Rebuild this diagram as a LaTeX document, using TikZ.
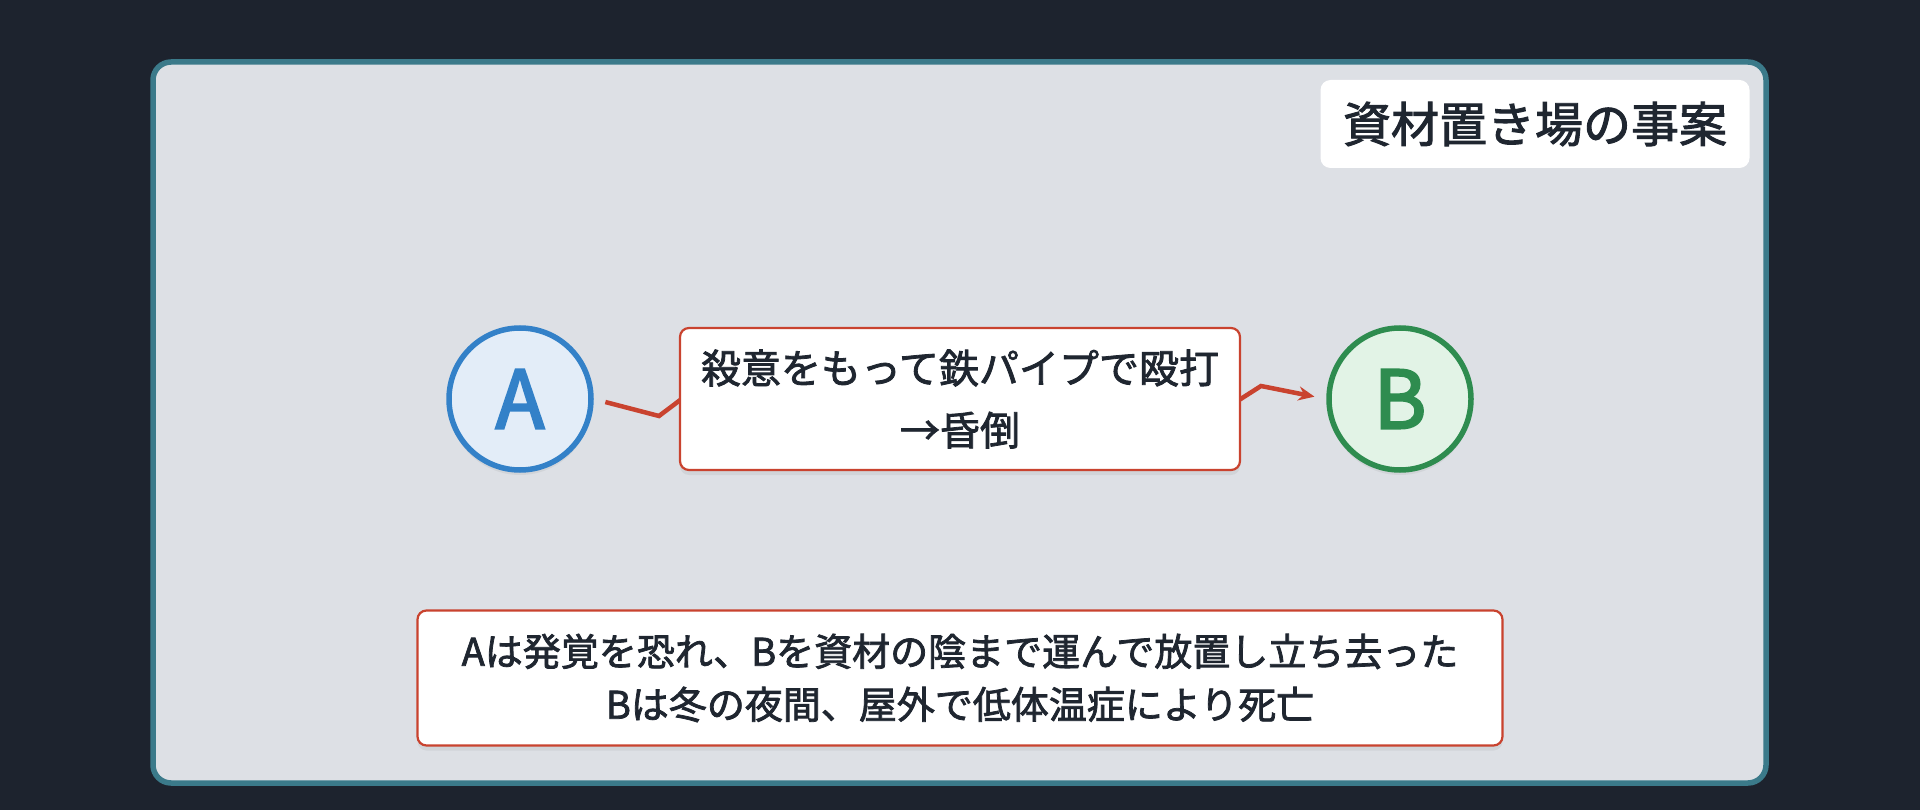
\documentclass[tikz,border=0pt]{standalone}
\usepackage{fontspec}
\setmainfont{Noto Sans CJK JP}[FakeBold=2]
\newfontfamily\letterfont{Noto Sans CJK JP}[FakeBold=3]
\usetikzlibrary{shadows,arrows.meta}
\definecolor{bgdark}{HTML}{1D232E}
\definecolor{panelfill}{HTML}{DDE0E5}
\definecolor{panelline}{HTML}{3B7A8A}
\definecolor{ink}{HTML}{1F2630}
\definecolor{blueline}{HTML}{3381C8}
\definecolor{bluefill}{HTML}{E3EDF8}
\definecolor{greenline}{HTML}{2E8C4F}
\definecolor{greenfill}{HTML}{E2F3E6}
\definecolor{redline}{HTML}{C9432F}
\tikzset{
  person/.style={circle, line width=5.5pt, minimum size=142pt, inner sep=0pt,
    font=\letterfont\fontsize{80}{82}\selectfont, drop shadow={opacity=0.12, shadow xshift=0pt, shadow yshift=-5pt}},
  eventbox/.style={draw=redline, line width=2.2pt, fill=white, rounded corners=9pt, inner sep=0pt,
    text=ink, align=center, drop shadow={opacity=0.12, shadow xshift=0pt, shadow yshift=-5pt}},
  titlebox/.style={fill=white, rounded corners=10pt, inner sep=0pt, text=ink,
    font=\fontsize{48}{52}\selectfont},
  attack/.style={draw=redline, line width=4.5pt, line join=miter,
    -{Stealth[length=16pt,width=14pt]}, shorten <=12pt, shorten >=12pt}
}
\begin{document}
\begin{tikzpicture}[x=1pt,y=-1pt]
\fill[bgdark] (0,0) rectangle (1920,810);
\useasboundingbox (0,0) rectangle (1920,810);
\draw[fill=panelfill, draw=panelline, line width=5.5pt, rounded corners=18pt] (153,62) rectangle (1766,783);
\node[titlebox, minimum width=429pt, minimum height=88pt] (title) at (1535,124) {資材置き場の事案};
\node[person, draw=blueline, fill=bluefill, text=blueline] (A) at (520,399) {A};
\node[person, draw=greenline, fill=greenfill, text=greenline] (B) at (1400,399) {B};
\coordinate (z1) at (659,416);
\coordinate (z2) at (720,370);
\coordinate (z3) at (1200,425);
\coordinate (z4) at (1261,386);
\draw[attack] (A.east) -- (z1) -- (z2) -- (z3) -- (z4) -- (B.west);
\node[eventbox, minimum width=560pt, minimum height=142pt, font=\fontsize{40}{62}\selectfont] (hit) at (960,399) {殺意をもって鉄パイプで殴打\\→昏倒};
\node[eventbox, minimum width=1085pt, minimum height=135pt, font=\fontsize{38}{53}\selectfont] (result) at (960,678) {Aは発覚を恐れ、Bを資材の陰まで運んで放置し立ち去った\\Bは冬の夜間、屋外で低体温症により死亡};
\end{tikzpicture}
\end{document}
